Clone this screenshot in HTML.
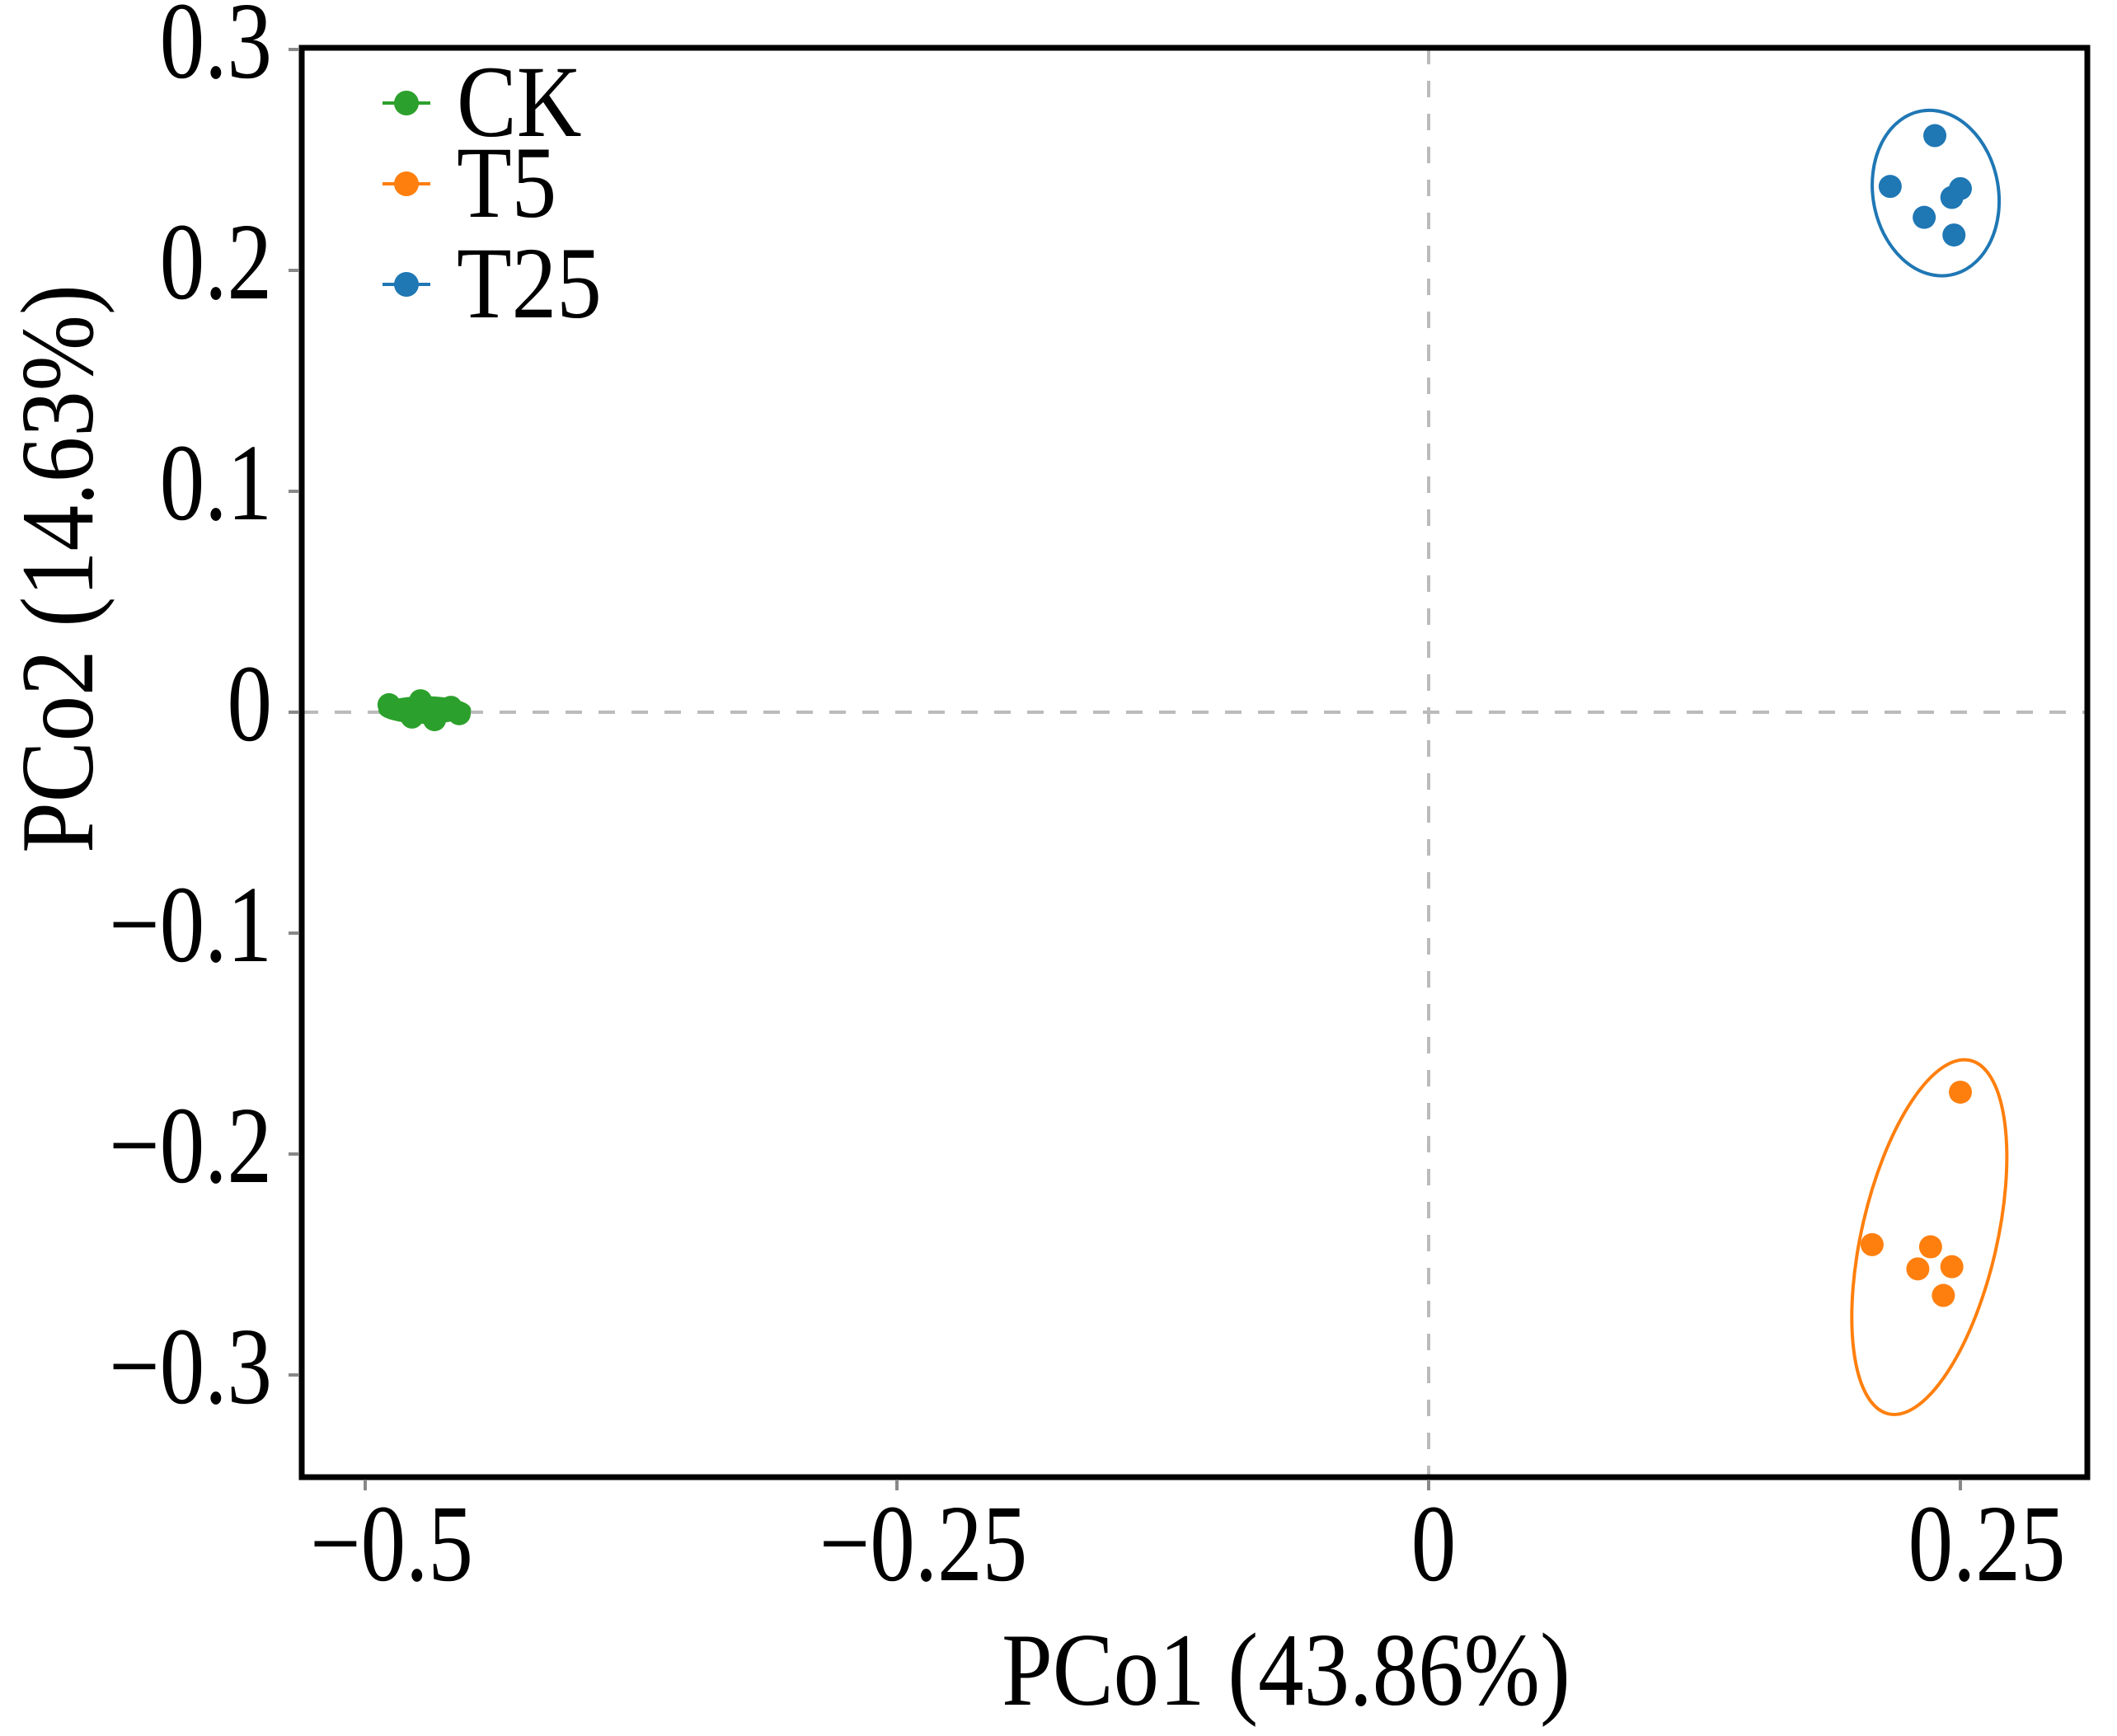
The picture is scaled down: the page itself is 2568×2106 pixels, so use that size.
<!DOCTYPE html>
<html><head><meta charset="utf-8"><style>
html,body{margin:0;padding:0;background:#fff;}
svg{display:block;}
svg text{font-family:"Liberation Serif","Times New Roman",Times,serif;}
</style></head><body>
<svg id="chart" width="2568" height="2106" viewBox="0 0 2568 2106">
<g id="grid"></g>
<g id="marks"></g>
<rect x="366" y="58" width="2166" height="1734" fill="none" stroke="#000" stroke-width="7"/>
<g id="axes"></g>
<text transform="translate(1560,2068) scale(0.88,1)" font-size="126" text-anchor="middle" font-family="Liberation Serif, serif">PCo1 (43.86%)</text>
<text transform="translate(112,690) rotate(-90) scale(0.88,1)" font-size="126" text-anchor="middle" font-family="Liberation Serif, serif">PCo2 (14.63%)</text>
<g id="legend"></g>
</svg>
<script>
const groups=["CK","T5","T25"];
const colors=["#2ca02c","#ff7f0e","#1f77b4"];
const ckX=[-0.4888,-0.474,-0.478,-0.4674,-0.4597,-0.4558];
const ckY=[0.0034,0.0052,-0.0022,-0.0034,0.0022,-0.0007];
const t5X=[0.250,0.2085,0.236,0.230,0.246,0.242];
const t5Y=[-0.172,-0.241,-0.242,-0.252,-0.251,-0.264];
const t25X=[0.238,0.217,0.250,0.246,0.233,0.247];
const t25Y=[0.261,0.238,0.237,0.233,0.224,0.216];
// ellipse: centerX, centerY, semi-x (data), semi-y (data), rotation deg
const ckEll=[-0.472,0.001,0.021,0.0055,0];
const t5Ell=[0.2354,-0.2376,0.0318,0.0821,13];
const t25Ell=[0.2384,0.235,0.0295,0.0377,-10];
const xTicks=[-0.5,-0.25,0,0.25];
const xTickLabels=["\u22120.5","\u22120.25","0","0.25"];
const yTicks=[0.3,0.2,0.1,0,-0.1,-0.2,-0.3];
const yTickLabels=["0.3","0.2","0.1","0","\u22120.1","\u22120.2","\u22120.3"];
const NS="http://www.w3.org/2000/svg";
const L=366,R=2532,T=58,B=1792;
const sx=v=>1733+v*2580;
const sy=v=>864-v*2680;
function mk(tag,attrs,parent){const e=document.createElementNS(NS,tag);for(const k in attrs)e.setAttribute(k,attrs[k]);parent.appendChild(e);return e;}
const grid=document.getElementById('grid'),marks=document.getElementById('marks'),axes=document.getElementById('axes'),legend=document.getElementById('legend');
let e=mk('line',{x1:sx(0),x2:sx(0),y1:T,y2:B,stroke:'#bbb','stroke-width':4,'stroke-dasharray':'20 20'},grid);


e=mk('line',{x1:L,x2:R,y1:sy(0),y2:sy(0),stroke:'#bbb','stroke-width':4,'stroke-dasharray':'20 20'},grid);


const sets=[[ckX,ckY,ckEll],[t5X,t5Y,t5Ell],[t25X,t25Y,t25Ell]];
sets.forEach((s,gi)=>{
  const el=s[2];
  const cx=sx(el[0]),cy=sy(el[1]);
  const rx=el[2]*2580,ry=el[3]*2680;
  let c=mk('ellipse',{cx:cx,cy:cy,rx:rx,ry:ry,fill:gi==0?colors[gi]:'none',stroke:colors[gi],'stroke-width':4,transform:`rotate(${el[4]} ${cx} ${cy})`},marks);
  
  
  s[0].forEach((x,i)=>{
    const p=mk('circle',{cx:sx(x),cy:sy(s[1][i]),r:14,fill:colors[gi]},marks);
    
    
  });
});
xTicks.forEach((v,i)=>{
  const t=mk('line',{x1:sx(v),x2:sx(v),y1:B+3,y2:B+16,stroke:'#888','stroke-width':4},axes);
  
  
  const off=v===0?6:32;
  const tx=mk('text',{transform:`translate(${sx(v)+off},1917) scale(0.82,1)`,'font-size':133,'text-anchor':'middle','font-family':'Liberation Serif, serif'},axes);
  tx.textContent=xTickLabels[i];
  
  
});
yTicks.forEach((v,i)=>{
  const t=mk('line',{x1:L-16,x2:L-3,y1:sy(v),y2:sy(v),stroke:'#888','stroke-width':4},axes);
  
  
  const tx=mk('text',{transform:`translate(330,${sy(v)+34}) scale(0.82,1)`,'font-size':133,'text-anchor':'end','font-family':'Liberation Serif, serif'},axes);
  tx.textContent=yTickLabels[i];
  
  
});
const legY=[125,223,345];
groups.forEach((g,i)=>{
  const ln=mk('line',{x1:464,x2:522,y1:legY[i],y2:legY[i],stroke:colors[i],'stroke-width':4},legend);
  
  
  const c=mk('circle',{cx:493,cy:legY[i],r:15,fill:colors[i]},legend);
  
  
  const tx=mk('text',{transform:`translate(554,${legY[i]+40}) scale(0.88,1)`,'font-size':124,'font-family':'Liberation Serif, serif'},legend);
  tx.textContent=g;
  
  
});
</script>
</body></html>
